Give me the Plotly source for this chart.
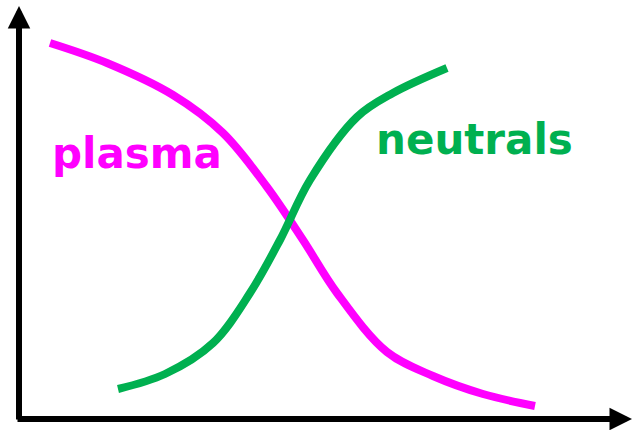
import plotly.graph_objects as go

plasma_x = [50, 107, 173, 223, 267, 303, 337, 387, 433, 483, 535]
plasma_y = [387, 367, 335, 297, 243, 190, 137, 78, 54, 36, 24]

neutrals_x = [118, 165, 213, 250, 280, 310, 357, 393, 447]
neutrals_y = [41, 56, 87, 137, 190, 250, 313, 337, 362]

labels = ["plasma", "neutrals"]
label_x = [137, 474]
label_y = [277, 291]

MAGENTA = "#FF00FF"
GREEN = "#00B050"

fig = go.Figure()
fig.add_trace(go.Scatter(x=plasma_x, y=plasma_y, mode="lines",
                         line=dict(color=MAGENTA, width=8, shape="spline", smoothing=1.0),
                         hoverinfo="skip"))
fig.add_trace(go.Scatter(x=neutrals_x, y=neutrals_y, mode="lines",
                         line=dict(color=GREEN, width=8, shape="spline", smoothing=1.0),
                         hoverinfo="skip"))

# Axes drawn as arrows
fig.add_annotation(x=19, y=424, ax=19, ay=9, xref="x", yref="y", axref="x", ayref="y",
                   showarrow=True, arrowhead=2, arrowsize=0.75, arrowwidth=6, arrowcolor="black", text="")
fig.add_annotation(x=632, y=11, ax=16, ay=11, xref="x", yref="y", axref="x", ayref="y",
                   showarrow=True, arrowhead=2, arrowsize=0.75, arrowwidth=6, arrowcolor="black", text="")

for t, x, y, c in zip(labels, label_x, label_y, [MAGENTA, GREEN]):
    fig.add_annotation(x=x, y=y, xref="x", yref="y", text=t, showarrow=False,
                       xanchor="center", yanchor="middle",
                       font=dict(family="DejaVu Sans", size=42, color=c, weight="bold"))

fig.update_layout(width=634, height=430, margin=dict(l=0, r=0, t=0, b=0),
                  paper_bgcolor="white", plot_bgcolor="white", showlegend=False,
                  xaxis=dict(range=[0, 634], visible=False, fixedrange=True),
                  yaxis=dict(range=[0, 430], visible=False, fixedrange=True))

fig.write_html("out.html", config={"displayModeBar": False},
               post_script="document.body.style.margin='0';document.body.style.overflow='hidden';")
